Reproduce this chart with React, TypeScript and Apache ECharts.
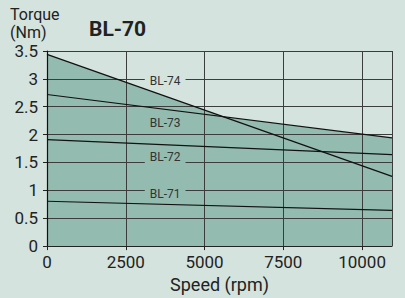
import React, { useEffect, useRef } from "react";
import * as echarts from "echarts";

const speedTicks = [0, 2500, 5000, 7500, 10000];
const bl74 = [[0, 3.44], [10950, 1.25]];
const bl73 = [[0, 2.72], [10950, 1.94]];
const bl72 = [[0, 1.91], [10950, 1.64]];
const bl71 = [[0, 0.805], [10950, 0.64]];
const labelNames = ["BL-74", "BL-73", "BL-72", "BL-71"];
const labelCoords = [[3750, 3.0], [3750, 2.245], [3750, 1.5], [3750, 1.0]];

const BG = "#d4e3dd";
const FILL = "#94bbaf";
const FONT = "Roboto, 'Liberation Sans', sans-serif";

export default function App() {
  const ref = useRef<HTMLDivElement>(null);
  useEffect(() => {
    document.body.style.margin = "0";
    const chart = echarts.init(ref.current!, undefined, { renderer: "svg" });
    const lineSeries = (name: string, data: number[][], extra: any = {}) => ({
      name,
      type: "line",
      data,
      symbol: "none",
      z: 5,
      lineStyle: { color: "#111", width: 1.2 },
      ...extra,
    });
    const areaSeries = (data: number[][]) => ({
      type: "line",
      data,
      symbol: "none",
      z: 1,
      lineStyle: { width: 0 },
      areaStyle: { color: FILL, opacity: 1 },
      silent: true,
    });
    const mp = (i: number, bg: string | undefined, offset: number[], padding: number[]) => ({
      symbol: "rect",
      symbolSize: 0,
      silent: true,
      data: [{ coord: labelCoords[i] }],
      label: {
        show: true,
        position: "inside",
        formatter: labelNames[i],
        color: "#333",
        fontSize: 12,
        fontFamily: FONT,
        backgroundColor: bg,
        padding,
        offset,
      },
    });
    const unitStyle = { fontSize: 16, lineHeight: 17, fontWeight: "normal", color: "#222", fontFamily: FONT };
    chart.setOption({
      animation: false,
      backgroundColor: BG,
      textStyle: { fontFamily: FONT },
      title: [
        { text: "Torque", left: 10, top: 6, padding: 0, textStyle: unitStyle },
        { text: "(Nm)", left: 10, top: 24, padding: 0, textStyle: unitStyle },
        {
          text: "BL-70",
          left: 84,
          top: 13,
          textStyle: { fontSize: 21, fontWeight: "bold", color: "#222", fontFamily: FONT },
        },
      ],
      grid: { left: 47, right: 13, top: 51, bottom: 47, containLabel: false },
      xAxis: {
        type: "value",
        min: 0,
        max: 10950,
        interval: 2500,
        z: 3,
        name: "Speed (rpm)",
        nameLocation: "middle",
        nameGap: 25,
        nameTextStyle: { fontSize: 18, color: "#222", fontFamily: FONT },
        axisLine: { show: true, lineStyle: { color: "#222", width: 1 } },
        axisTick: { show: true, length: 4, lineStyle: { color: "#222" } },
        axisLabel: {
          fontSize: 17,
          color: "#222",
          margin: 7,
          showMaxLabel: false,
          fontFamily: FONT,
          formatter: (v: number) => (speedTicks.includes(v) ? String(v) : ""),
        },
        splitLine: { show: true, lineStyle: { color: "#3c3c3c", width: 1 } },
      },
      yAxis: {
        type: "value",
        min: 0,
        max: 3.5,
        interval: 0.5,
        z: 3,
        axisLine: { show: true, lineStyle: { color: "#111", width: 1.2 } },
        axisTick: { show: true, length: 4, lineStyle: { color: "#222" } },
        axisLabel: { fontSize: 17, lineHeight: 13, color: "#222", margin: 9, fontFamily: FONT },
        splitLine: { show: true, lineStyle: { color: "#3c3c3c", width: 1 } },
      },
      series: [
        areaSeries(bl74),
        areaSeries(bl73),
        lineSeries("BL-74", bl74, { markPoint: mp(0, BG, [0, 2], [1, 5, 1, 5]) }),
        lineSeries("BL-73", bl73, { markPoint: mp(1, undefined, [0, 2], [1, 5, 1, 5]) }),
        lineSeries("BL-72", bl72, { markPoint: mp(2, FILL, [0, -5], [1, 5, 8, 5]) }),
        lineSeries("BL-71", bl71, { markPoint: mp(3, FILL, [0, 4], [1, 5, 1, 5]) }),
      ],
    });
    return () => chart.dispose();
  }, []);
  return <div ref={ref} style={{ width: 405, height: 298, background: BG }} />;
}
